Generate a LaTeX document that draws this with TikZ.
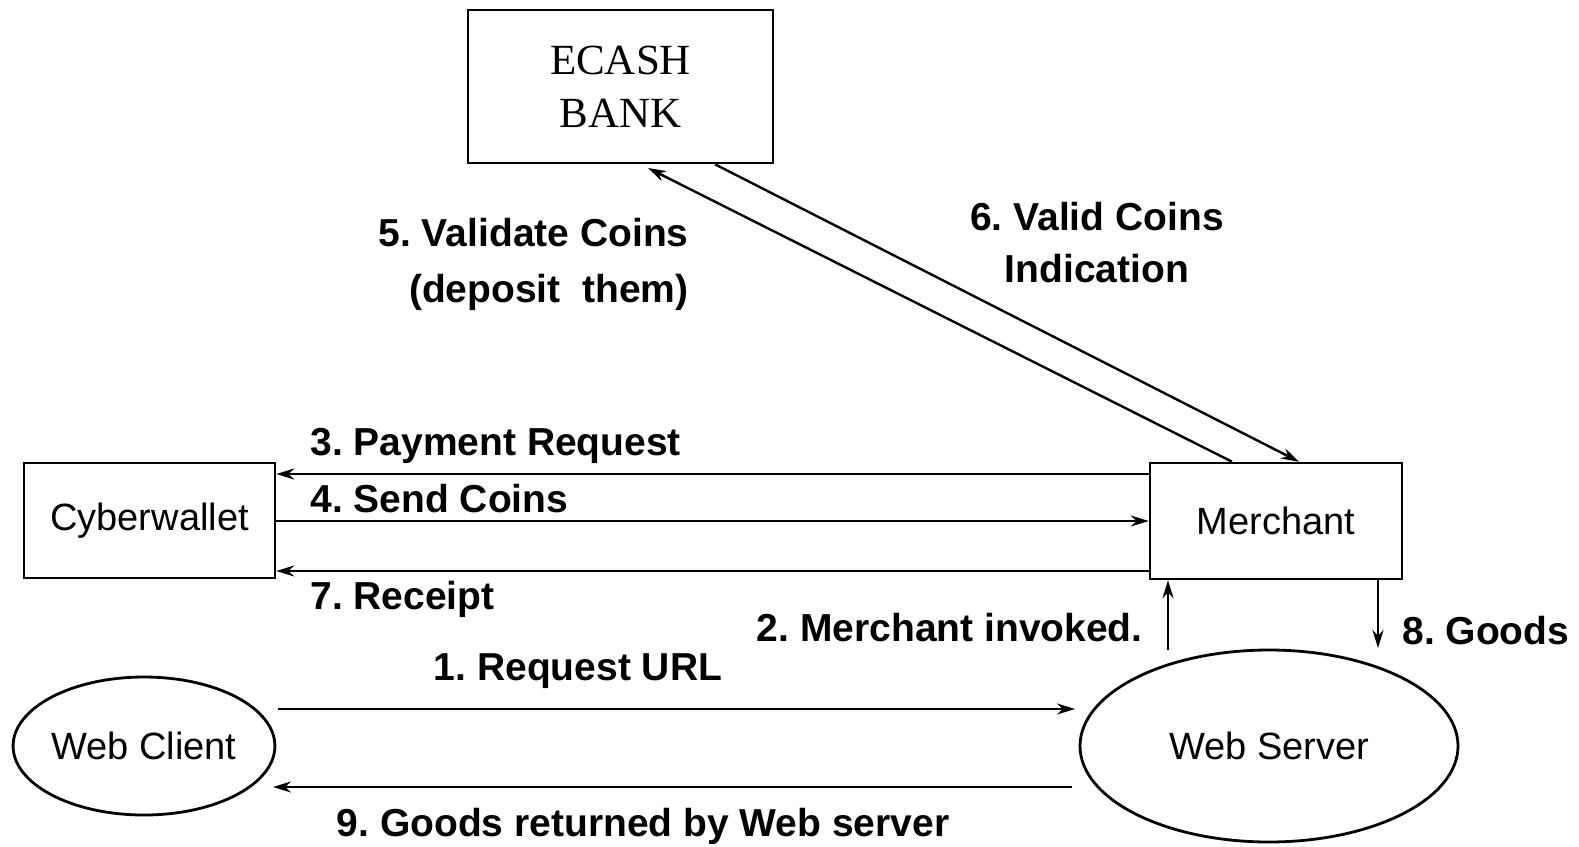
\documentclass[tikz,border=0pt]{standalone}
\usepackage{fontspec}
\setmainfont{Liberation Serif}
\setsansfont{Liberation Sans}
\usetikzlibrary{shapes.geometric,arrows.meta}
\frenchspacing
\begin{document}
\begin{tikzpicture}[x=0.5pt,y=-0.5pt,
  box/.style={draw,line width=1.3pt,rectangle,inner sep=0pt},
  oval/.style={draw,line width=1.4pt,ellipse,inner sep=0pt},
  conn/.style={line width=1.2pt,-{Stealth[length=9pt,width=5.5pt]}},
  lbl/.style={font=\sffamily\bfseries\fontsize{19.5}{24}\selectfont,inner sep=0pt},
  nm/.style={font=\sffamily\fontsize{19}{23}\selectfont}]
\useasboundingbox (0,0) rectangle (1579,846);
\node[box,minimum width=152.5pt,minimum height=76.5pt,align=center,
  font=\rmfamily\fontsize{21.5}{26.5}\selectfont] (bank) at (620.5,86.5) {ECASH\\BANK};
\node[box,minimum width=125.5pt,minimum height=57.5pt,nm] (wallet) at (149.5,520.5) {Cyberwallet};
\node[box,minimum width=126pt,minimum height=58pt,nm] (merchant) at (1276,521) {Merchant};
\node[oval,minimum width=129pt,minimum height=69pt,nm] (client) at (144,746) {Web Client};
\node[oval,minimum width=189pt,minimum height=96pt,nm] (server) at (1269,746) {Web Server};

% free ends
\coordinate (c1s) at (278,709);
\coordinate (c1e) at (1075,709);
\coordinate (c9s) at (1072,787);
\coordinate (c9e) at (273,787);
\coordinate (c2s) at (1168,650);
\coordinate (c8e) at (1378,648);

% wallet <-> merchant
\draw[conn] (merchant.west |- 0,474) -- (wallet.east |- 0,474);
\draw[conn] (wallet.east |- 0,521) -- (merchant.west |- 0,521);
\draw[conn] (merchant.west |- 0,571) -- (wallet.east |- 0,571);
% client <-> server
\draw[conn] (c1s) -- (c1e);
\draw[conn] (c9s) -- (c9e);
% server <-> merchant
\draw[conn] (c2s) -- (merchant.south -| c2s);
\draw[conn] (merchant.south -| c8e) -- (c8e);
% merchant <-> bank
\draw[conn] (merchant.north -| 1232,0) -- (648,168);
\draw[conn] (bank.south -| 715,0) -- (merchant.north -| 1299,0);

% labels
\node[lbl,align=right,anchor=east] (l5) at (689,264) {5. Validate Coins\\[4pt](deposit\ \ them)};
\node[lbl,align=center] (l6) at (1097,243) {6. Valid Coins\\[2pt]Indication};
\node[lbl,anchor=west] (l3) at (310,446) {3. Payment Request};
\node[lbl,anchor=west] (l4) at (310,499) {4. Send Coins};
\node[lbl,anchor=west] (l7) at (310,599) {7. Receipt};
\node[lbl,anchor=east] (l2) at (1143,628) {2. Merchant invoked.};
\node[lbl,anchor=west] (l8) at (1402,631) {8. Goods};
\node[lbl] (l1) at (578,671) {1. Request URL};
\node[lbl] (l9) at (643,826) {9. Goods returned by Web server};
\end{tikzpicture}
\end{document}
